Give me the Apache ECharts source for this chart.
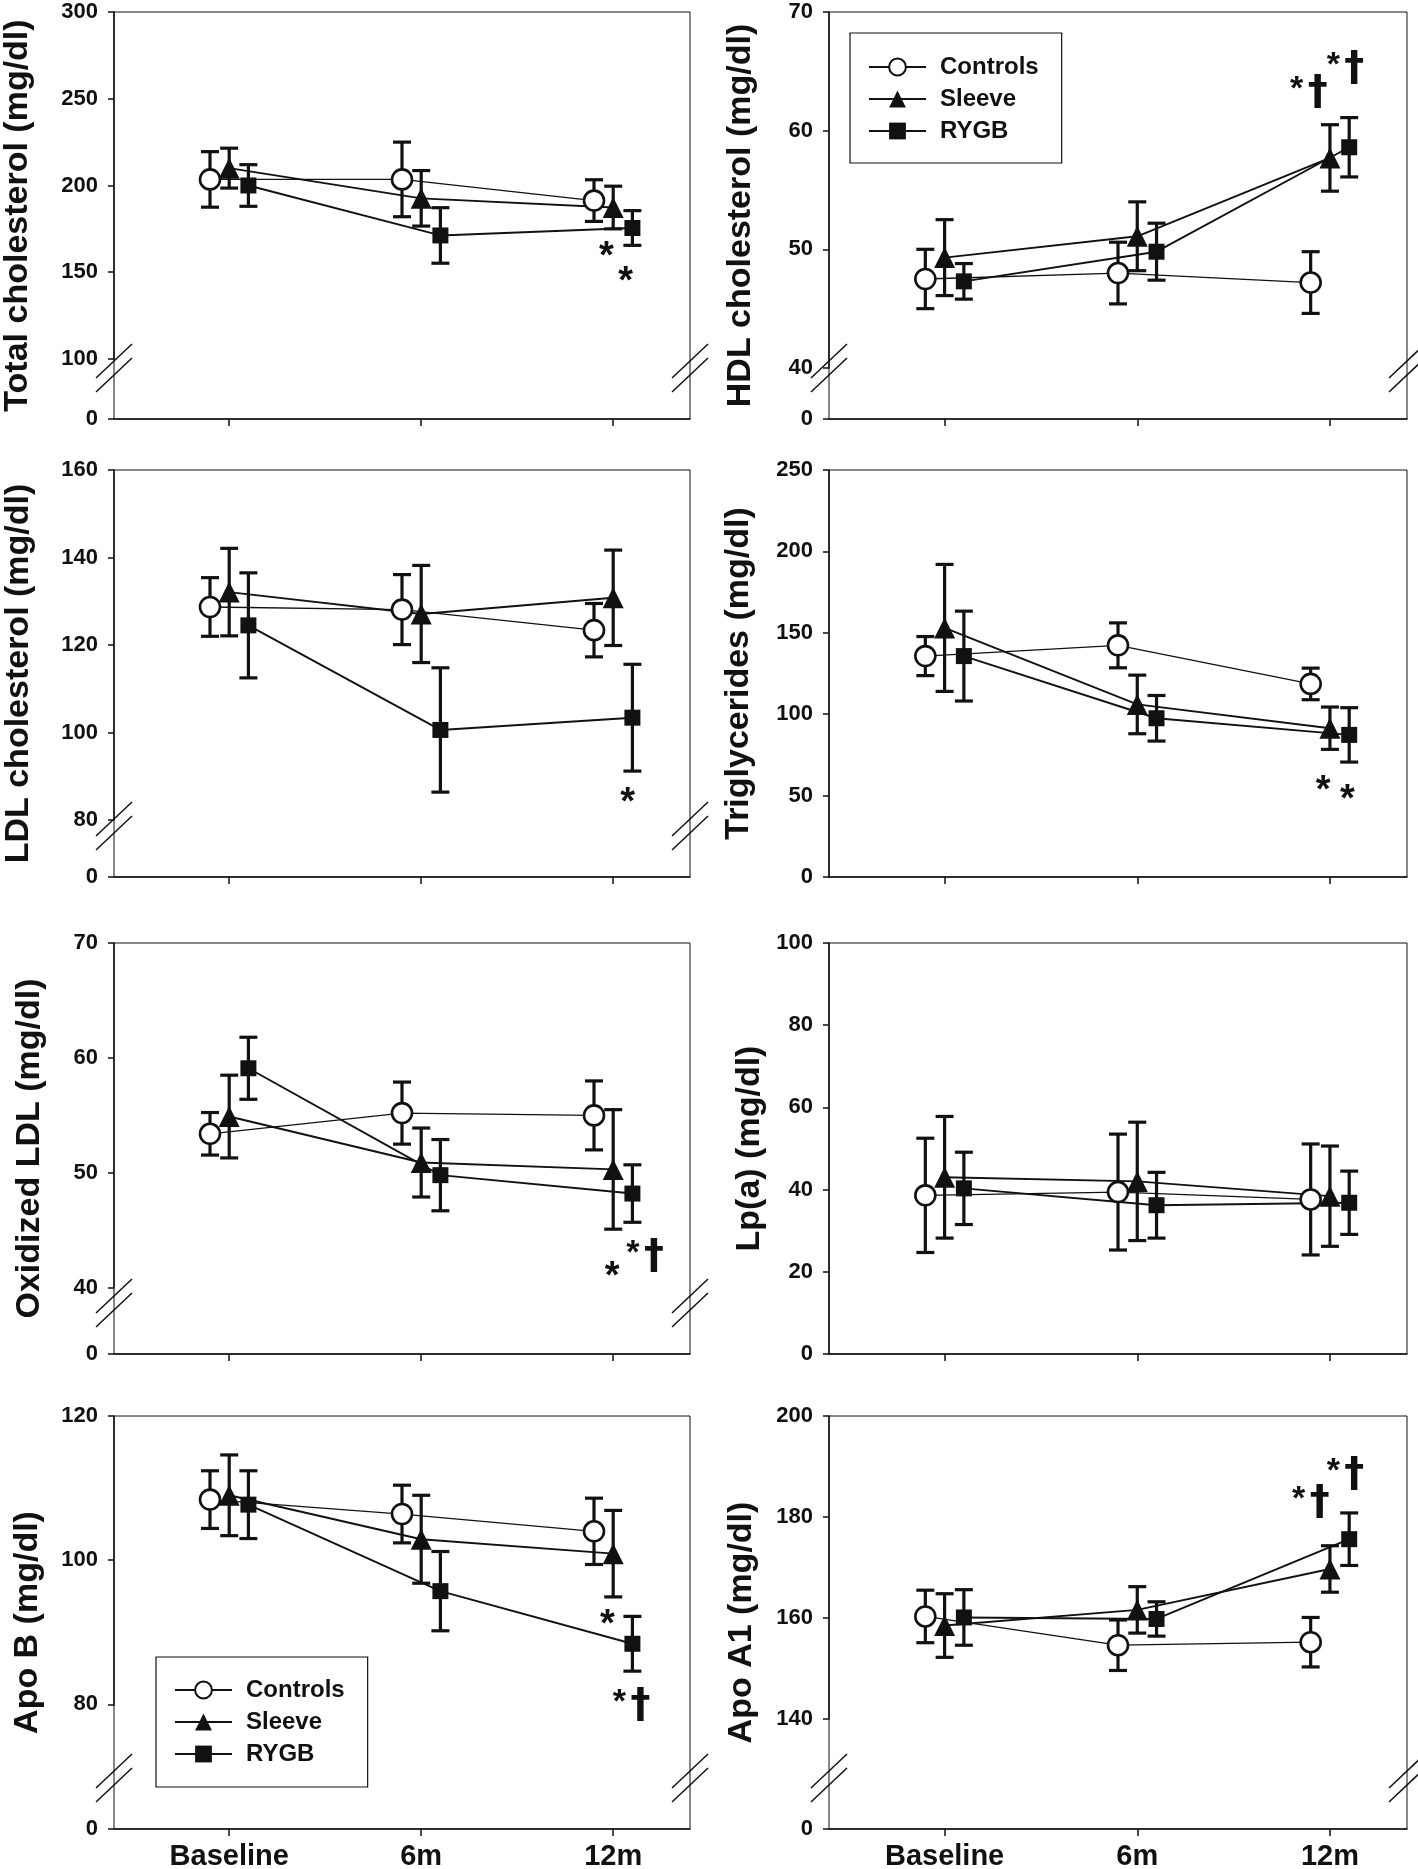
<!DOCTYPE html>
<html>
<head>
<meta charset="utf-8">
<script src="https://cdn.jsdelivr.net/npm/echarts@6/dist/echarts.min.js"></script>
<style>
  html, body { margin: 0; padding: 0; background: #fff; }
  #chart { width: 1418px; height: 1869px; }
</style>
</head>
<body>
<div id="chart"></div>
<script>
const timepoints = ['Baseline', '6m', '12m'];
const groups = ['Controls', 'Sleeve', 'RYGB'];
const groupOffset = [-0.1, 0, 0.1];

// Total cholesterol (rows: Controls, Sleeve, RYGB)
const tcMean = [[203.5, 203.5, 191.3], [210, 192.6, 187.3], [200, 171.2, 175.5]];
const tcErr = [[16, 21.5, 12], [11.5, 16, 12.3], [12, 16, 10]];
const tcTicks = [0, 100, 150, 200, 250, 300];
const tcStars = [[1.965, 163, '*'], [2.065, 148.6, '*']];

// HDL cholesterol
const hdlMean = [[47.5, 48.0, 47.2], [49.3, 51.1, 57.7], [47.3, 49.8, 58.6]];
const hdlErr = [[2.5, 2.6, 2.6], [3.2, 2.9, 2.8], [1.5, 2.4, 2.5]];
const hdlTicks = [0, 40, 50, 60, 70];
const hdlStars = [[1.89, 63.2, '*†'], [2.08, 65.2, '*†']];

// LDL cholesterol
const ldlMean = [[128.7, 128.1, 123.4], [132.1, 127.1, 130.8], [124.5, 100.6, 103.4]];
const ldlErr = [[6.7, 8, 6.1], [10, 11.1, 10.9], [12, 14.2, 12.2]];
const ldlTicks = [0, 80, 100, 120, 140, 160];
const ldlStars = [[2.075, 85.7, '*']];

// Triglycerides
const tgMean = [[135.7, 142.3, 118.6], [153, 106, 91.4], [135.7, 97.5, 87.3]];
const tgErr = [[12, 13.8, 9.7], [39, 18, 13], [27.6, 14, 16.7]];
const tgTicks = [0, 50, 100, 150, 200, 250];
const tgStars = [[1.965, 57.6, '*'], [2.09, 52.0, '*']];

// Oxidized LDL
const oxMean = [[53.4, 55.2, 55.0], [54.9, 50.9, 50.3], [59.1, 49.8, 48.2]];
const oxErr = [[1.85, 2.7, 3], [3.6, 3, 5.2], [2.7, 3.1, 2.5]];
const oxTicks = [0, 40, 50, 60, 70];
const oxStars = [[1.995, 41.6, '*'], [2.165, 42.7, '*†']];

// Lp(a)
const lpMean = [[38.6, 39.4, 37.6], [43, 42, 38.4], [40.3, 36.2, 36.8]];
const lpErr = [[13.9, 14.1, 13.5], [14.8, 14.4, 12.2], [8.8, 8, 7.7]];
const lpTicks = [0, 20, 40, 60, 80, 100];
const lpStars = [];

// Apo B
const apoBMean = [[108.4, 106.4, 104], [109, 102.9, 100.9], [107.7, 95.7, 88.4]];
const apoBErr = [[4, 4, 4.6], [5.6, 6.1, 6], [4.7, 5.5, 3.8]];
const apoBTicks = [0, 80, 100, 120];
const apoBStars = [[1.97, 92.0, '*'], [2.095, 79.3, '*†']];

// Apo A1
const apoA1Mean = [[160.3, 154.6, 155.2], [158.5, 161.6, 169.7], [160.1, 159.8, 175.6]];
const apoA1Err = [[5.2, 5, 4.9], [6.3, 4.6, 4.6], [5.5, 3.4, 5.2]];
const apoA1Ticks = [0, 140, 160, 180, 200];
const apoA1Stars = [[1.9, 182.8, '*†'], [2.08, 188.4, '*†']];

const panels = [
  { title: 'Total cholesterol (mg/dl)', mean: tcMean, err: tcErr, ticks: tcTicks, brk: 100, gap: 34.6, stars: tcStars, nameGap: 79 },
  { title: 'HDL cholesterol (mg/dl)', mean: hdlMean, err: hdlErr, ticks: hdlTicks, brk: 40, gap: 4.3, stars: hdlStars, nameGap: 71 },
  { title: 'LDL cholesterol (mg/dl)', mean: ldlMean, err: ldlErr, ticks: ldlTicks, brk: 80, gap: 13, stars: ldlStars, nameGap: 78 },
  { title: 'Triglycerides (mg/dl)', mean: tgMean, err: tgErr, ticks: tgTicks, brk: null, gap: 0, stars: tgStars, nameGap: 73 },
  { title: 'Oxidized LDL (mg/dl)', mean: oxMean, err: oxErr, ticks: oxTicks, brk: 40, gap: 5.76, stars: oxStars, nameGap: 67 },
  { title: 'Lp(a) (mg/dl)', mean: lpMean, err: lpErr, ticks: lpTicks, brk: null, gap: 0, stars: lpStars, nameGap: 62 },
  { title: 'Apo B (mg/dl)', mean: apoBMean, err: apoBErr, ticks: apoBTicks, brk: 80, gap: 17.3, stars: apoBStars, nameGap: 69 },
  { title: 'Apo A1 (mg/dl)', mean: apoA1Mean, err: apoA1Err, ticks: apoA1Ticks, brk: 140, gap: 21.8, stars: apoA1Stars, nameGap: 70 }
];

const FONT = '"Liberation Sans", Arial, sans-serif';
const DAGGER_FONT = '"DejaVu Sans", "Liberation Sans", sans-serif';
const INK = '#111';
const colLeft = [114, 829];
const colWidth = [576, 578];
const rowTop = [12, 470, 943, 1416];
const rowHeight = [407, 407, 411, 413];

const symbols = [
  { symbol: 'circle', size: 20, itemStyle: { color: '#fff', borderColor: INK, borderWidth: 2.6 }, width: 1.3 },
  { symbol: 'triangle', size: 21, itemStyle: { color: INK }, width: 1.9 },
  { symbol: 'rect', size: 16, itemStyle: { color: INK }, width: 1.9 }
];

const grids = [], xAxes = [], yAxes = [], series = [];

function errorBar(params, api) {
  const x = api.value(0);
  const top = api.coord([x, api.value(2)]);
  const bot = api.coord([x, api.value(1)]);
  const w = 9;
  const st = { stroke: INK, lineWidth: 3.2 };
  return {
    type: 'group',
    children: [
      { type: 'line', shape: { x1: top[0], y1: top[1], x2: bot[0], y2: bot[1] }, style: st },
      { type: 'line', shape: { x1: top[0] - w, y1: top[1], x2: top[0] + w, y2: top[1] }, style: st },
      { type: 'line', shape: { x1: bot[0] - w, y1: bot[1], x2: bot[0] + w, y2: bot[1] }, style: st }
    ]
  };
}

// the "//" marks where the value axis is broken
function breakMark(params, api) {
  const p = api.coord([api.value(0), 0]);
  const cy = p[1] - 51;
  const st = { stroke: INK, lineWidth: 1.5 };
  return {
    type: 'group',
    children: [-7, 7].map(d => ({
      type: 'line',
      shape: { x1: p[0] - 18, y1: cy + d + 17, x2: p[0] + 18, y2: cy + d - 17 },
      style: st
    }))
  };
}

function starRenderer(stars) {
  return function (params, api) {
    const s = stars[params.dataIndex];
    const p = api.coord([s[0], s[1]]);
    if (s[2] === '*') {
      return {
        type: 'text',
        style: { text: '*', x: p[0], y: p[1] + 8, fill: INK, font: 'bold 38px ' + FONT, align: 'center', verticalAlign: 'middle' }
      };
    }
    return {
      type: 'group',
      children: [
        { type: 'text', style: { text: '*', x: p[0] - 12, y: p[1] - 3, fill: INK, font: 'bold 34px ' + FONT, align: 'center', verticalAlign: 'middle' } },
        { type: 'text', style: { text: '†', x: p[0] + 9, y: p[1] + 1, fill: INK, font: 'bold 40px ' + DAGGER_FONT, align: 'center', verticalAlign: 'middle' } }
      ]
    };
  };
}

panels.forEach((pn, k) => {
  const row = Math.floor(k / 2), col = k % 2;
  grids.push({
    left: colLeft[col], top: rowTop[row], width: colWidth[col], height: rowHeight[row],
    show: true, borderColor: INK, borderWidth: 1, backgroundColor: 'transparent',
    outerBoundsMode: 'none'
  });
  xAxes.push({
    gridIndex: k, type: 'value', min: -0.6, max: 2.4,
    axisLine: { show: true, onZero: false, lineStyle: { color: INK, width: 1.5 } },
    axisTick: { show: true, customValues: [0, 1, 2], length: 7, lineStyle: { color: INK, width: 1.5 } },
    axisLabel: {
      show: row === 3, customValues: [0, 1, 2], formatter: v => timepoints[Math.round(v)],
      fontSize: 29, fontWeight: 'bold', fontFamily: FONT, color: INK, margin: 13
    },
    splitLine: { show: false }
  });
  const y = {
    gridIndex: k, type: 'value', min: 0, max: pn.ticks[pn.ticks.length - 1],
    axisLine: { show: true, onZero: false, lineStyle: { color: INK, width: 1.5 } },
    axisTick: { show: true, customValues: pn.ticks, length: 6, lineStyle: { color: INK, width: 1.5 } },
    axisLabel: { customValues: pn.ticks, fontSize: 22, fontWeight: 'bold', fontFamily: FONT, color: INK, margin: 16 },
    splitLine: { show: false },
    name: pn.title, nameLocation: 'middle', nameRotate: 90, nameGap: pn.nameGap,
    nameTextStyle: { fontSize: 34, fontWeight: 'bold', fontFamily: FONT, color: INK }
  };
  if (pn.brk) {
    y.breaks = [{ start: 0, end: pn.brk, gap: pn.gap }];
    y.breakArea = { show: false, expandOnClick: false };
  }
  yAxes.push(y);

  groups.forEach((g, gi) => {
    series.push({
      type: 'custom', xAxisIndex: k, yAxisIndex: k, z: 1, silent: true,
      renderItem: errorBar,
      data: timepoints.map((t, i) => [i + groupOffset[gi], pn.mean[gi][i] - pn.err[gi][i], pn.mean[gi][i] + pn.err[gi][i]])
    });
  });
  groups.forEach((g, gi) => {
    const s = symbols[gi];
    series.push({
      name: g, type: 'line', xAxisIndex: k, yAxisIndex: k, z: 3,
      symbol: s.symbol, symbolSize: s.size, showAllSymbol: true,
      itemStyle: s.itemStyle, lineStyle: { color: INK, width: s.width },
      emphasis: { disabled: true },
      data: timepoints.map((t, i) => [i + groupOffset[gi], pn.mean[gi][i]])
    });
  });
  if (pn.brk) {
    series.push({
      type: 'custom', xAxisIndex: k, yAxisIndex: k, z: 4, silent: true,
      renderItem: breakMark, data: [[-0.6, 0], [2.4, 0]]
    });
  }
  if (pn.stars.length) {
    series.push({
      type: 'custom', xAxisIndex: k, yAxisIndex: k, z: 4, silent: true,
      renderItem: starRenderer(pn.stars), data: pn.stars.map(s => [s[0], s[1]])
    });
  }
});

const legendBase = {
  orient: 'vertical', data: groups, itemWidth: 57, itemHeight: 21, itemGap: 6,
  borderColor: INK, borderWidth: 1.2, backgroundColor: '#fff',
  textStyle: { fontSize: 24, fontWeight: 'bold', fontFamily: FONT, color: INK, lineHeight: 26, padding: [0, 0, 0, 9] }
};

const chart = echarts.init(document.getElementById('chart'), null, { renderer: 'canvas' });
chart.setOption({
  animation: false,
  backgroundColor: '#fff',
  grid: grids,
  xAxis: xAxes,
  yAxis: yAxes,
  legend: [
    Object.assign({}, legendBase, { left: 850, top: 33, padding: [21, 23, 19, 18] }),
    Object.assign({}, legendBase, { left: 156, top: 1657, padding: [20, 23, 20, 18] })
  ],
  series: series
});
</script>
</body>
</html>
